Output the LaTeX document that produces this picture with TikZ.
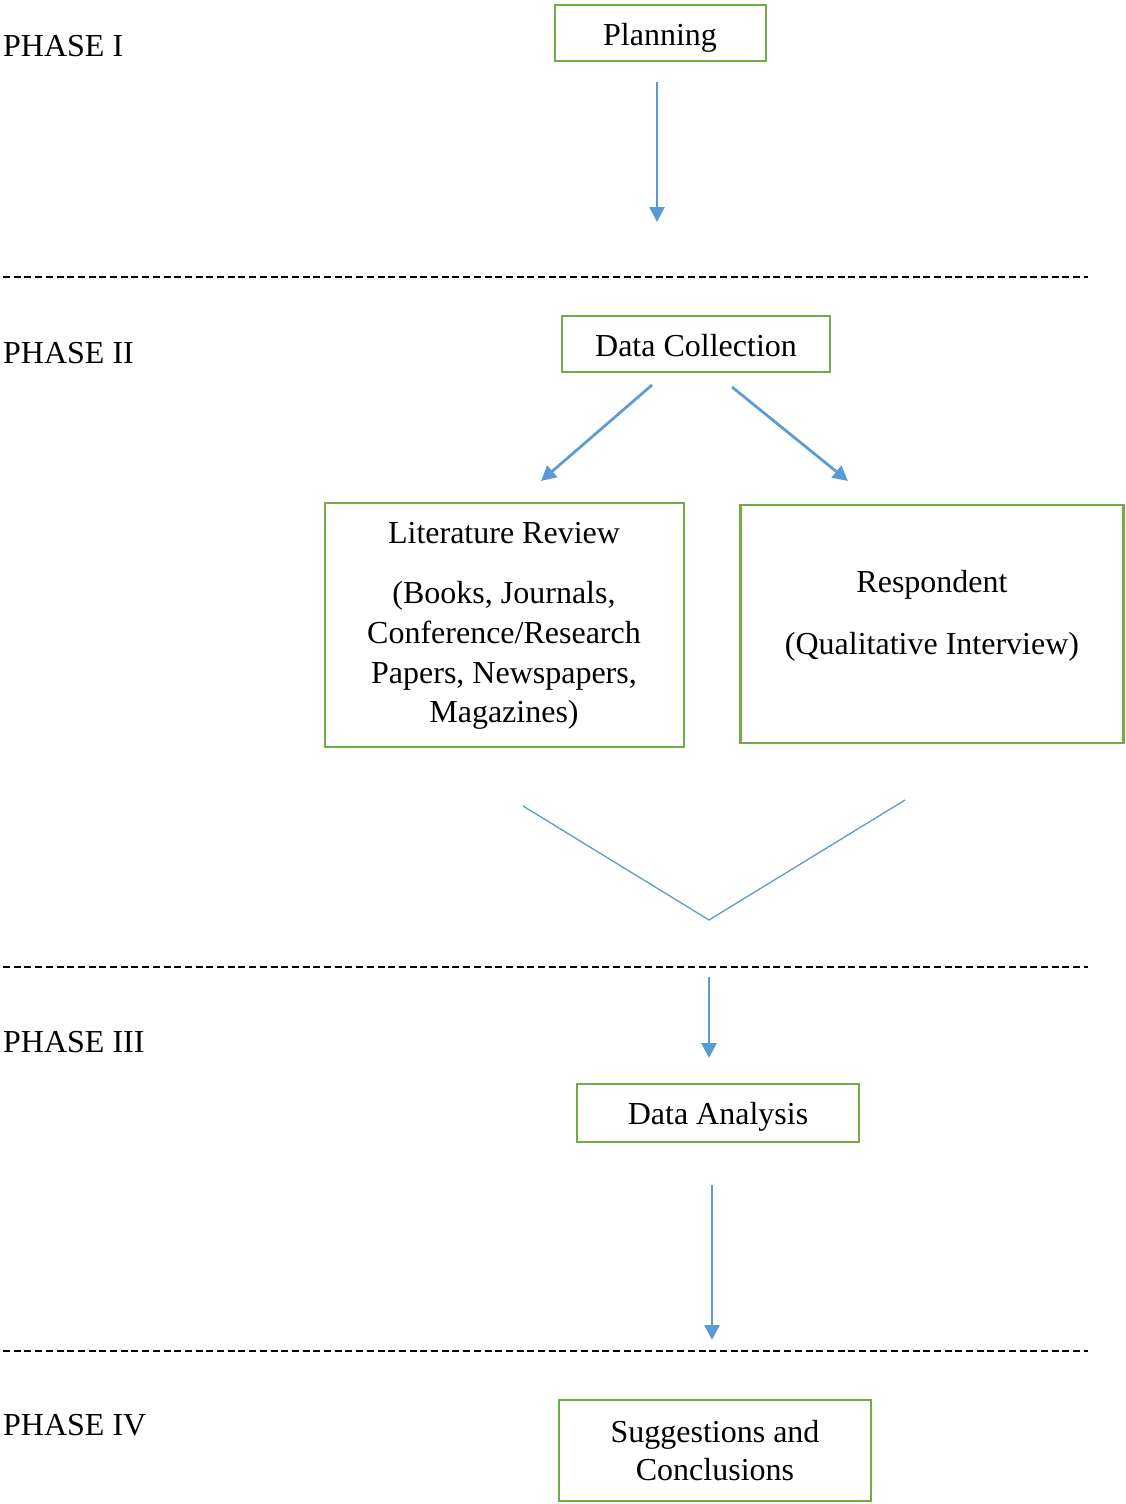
\documentclass[tikz,border=0pt]{standalone}
\usepackage{fontspec}
\setmainfont{Liberation Serif}
\usetikzlibrary{arrows.meta}
\definecolor{boxgreen}{RGB}{112,173,71}
\definecolor{flowblue}{RGB}{91,155,213}
\tikzset{
  stagebox/.style={draw=boxgreen, line width=2.8pt, inner sep=0pt, outer sep=0pt, fill=white},
  txt/.style={anchor=base, inner sep=0pt, font=\fontsize{32}{40}\selectfont},
  phaselabel/.style={anchor=base west, inner sep=0pt, font=\fontsize{32}{40}\selectfont},
  flow/.style={draw=flowblue, line width=2.7pt, -{Triangle[width=15pt,length=15pt]}},
  funnel/.style={draw=flowblue, line width=1.3pt},
  divider/.style={line width=2.8pt, dash pattern=on 7pt off 3.7pt}
}
\begin{document}
\begin{tikzpicture}[x=1pt,y=-1pt]
\useasboundingbox[fill=white] (0,0) rectangle (1125,1504);

% phase labels
\node[phaselabel] (p1) at (3,57) {PHASE I};
\node[phaselabel] (p2) at (3,363) {PHASE II};
\node[phaselabel] (p3) at (3,1052) {PHASE III};
\node[phaselabel] (p4) at (3,1435) {PHASE IV};

% phase dividers
\coordinate (d1a) at (3,277);  \coordinate (d1b) at (1088,277);
\coordinate (d2a) at (3,967);  \coordinate (d2b) at (1088,967);
\coordinate (d3a) at (3,1351); \coordinate (d3b) at (1088,1351);
\draw[divider] (d1a) -- (d1b);
\draw[divider] (d2a) -- (d2b);
\draw[divider] (d3a) -- (d3b);

% stage boxes
\node[stagebox, minimum width=211pt, minimum height=56pt] (plan) at (660.5,33) {};
\node[txt] (plantxt) at (660,46) {Planning};

\node[stagebox, minimum width=268pt, minimum height=56pt] (collect) at (696,344) {};
\node[txt] (collecttxt) at (696,356) {Data Collection};

\node[stagebox, minimum width=359pt, minimum height=244pt] (lit) at (504.5,625) {};
\node[txt] (lit1) at (504,543) {Literature Review};
\node[txt] (lit2) at (504,603) {(Books, Journals,};
\node[txt] (lit3) at (504,643) {Conference/Research};
\node[txt] (lit4) at (504,683) {Papers, Newspapers,};
\node[txt] (lit5) at (504,722) {Magazines)};

\node[stagebox, minimum width=383pt, minimum height=238pt] (resp) at (932,624) {};
\node[txt] (resp1) at (932,592) {Respondent};
\node[txt] (resp2) at (932,654) {(Qualitative Interview)};

\node[stagebox, minimum width=282pt, minimum height=58pt] (analysis) at (718,1113) {};
\node[txt] (analysistxt) at (718,1124) {Data Analysis};

\node[stagebox, minimum width=312pt, minimum height=101pt] (concl) at (715,1450.5) {};
\node[txt] (concl1) at (715,1442) {Suggestions and};
\node[txt] (concl2) at (715,1480) {Conclusions};

% connectors
\coordinate (a1s) at (657,82);   \coordinate (a1e) at (657,222);
\draw[flow] (a1s) -- (a1e);

\coordinate (a2s) at (652,385);  \coordinate (a2e) at (541,481);
\coordinate (a3s) at (732,387);  \coordinate (a3e) at (848,481);
\draw[flow] (a2s) -- (a2e);
\draw[flow] (a3s) -- (a3e);

\coordinate (vl) at (523,806); \coordinate (vm) at (709,920); \coordinate (vr) at (905,800);
\draw[funnel] (vl) -- (vm) -- (vr);

\coordinate (a4s) at (709,977);  \coordinate (a4e) at (709,1058);
\draw[flow] (a4s) -- (a4e);

\coordinate (a5s) at (712,1185); \coordinate (a5e) at (712,1340);
\draw[flow] (a5s) -- (a5e);
\end{tikzpicture}
\end{document}
